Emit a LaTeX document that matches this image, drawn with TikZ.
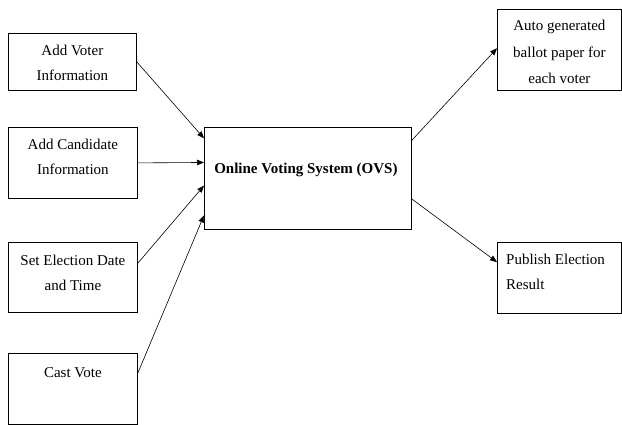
\documentclass[tikz,border=0pt]{standalone}
\usepackage{fontspec}
\setmainfont{Liberation Serif}
\usetikzlibrary{arrows.meta,calc}
\begin{document}
\begin{tikzpicture}[x=1pt,y=-1pt,
  box/.style={draw,line width=0.8pt,inner sep=0pt,anchor=north west},
  lbl/.style={inner sep=0pt,align=center,font=\fontsize{15}{25}\selectfont},
  conn/.style={line width=0.6pt,-{Triangle[length=7pt,width=5.5pt]}}]
\useasboundingbox (0,0) rectangle (622,425);
% boxes
\node[box,minimum width=128pt,minimum height=57pt] (b1) at (8,33) {};
\node[box,minimum width=129pt,minimum height=71pt] (b2) at (8,127) {};
\node[box,minimum width=129pt,minimum height=70pt] (b3) at (8,242) {};
\node[box,minimum width=129pt,minimum height=71pt] (b4) at (8,353) {};
\node[box,minimum width=207pt,minimum height=102pt] (ovs) at (204,127) {};
\node[box,minimum width=124pt,minimum height=81pt] (r1) at (497,9) {};
\node[box,minimum width=124pt,minimum height=71pt] (r2) at (497,242) {};
% texts
\node[lbl] (t1) at ($(b1.center)+(0,1)$) {Add Voter\\Information};
\node[lbl] (t2) at ($(b2.center)+(0,-6)$) {Add Candidate\\Information};
\node[lbl] (t3) at ($(b3.center)+(0,-4.5)$) {Set Election Date\\and Time};
\node[lbl] (t4) at ($(b4.center)+(0,-16.5)$) {Cast Vote};
\node[lbl,font=\fontsize{15}{25}\selectfont\bfseries] (t5) at ($(ovs.center)+(-2,-8)$) {Online Voting System (OVS)};
\node[lbl,font=\fontsize{15}{26.5}\selectfont] (t6) at ($(r1.center)+(0,2)$) {Auto generated\\ballot paper for\\each voter};
\node[lbl,align=left,anchor=west] (t7) at (506,271.5) {Publish Election\\Result};
% connectors
\draw[conn] (b1.east) -- ($(ovs.north west)!0.11!(ovs.south west)$);
\draw[conn] (b2.east) -- ($(ovs.north west)!0.345!(ovs.south west)$);
\draw[conn] ($(b3.north east)!0.3!(b3.south east)$) -- ($(ovs.north west)!0.57!(ovs.south west)$);
\draw[conn] ($(b4.north east)!0.28!(b4.south east)$) -- ($(ovs.north west)!0.86!(ovs.south west)$);
\draw[conn] ($(ovs.north east)!0.13!(ovs.south east)$) -- ($(r1.north west)!0.48!(r1.south west)$);
\draw[conn] ($(ovs.north east)!0.7!(ovs.south east)$) -- ($(r2.north west)!0.28!(r2.south west)$);
\end{tikzpicture}
\end{document}
